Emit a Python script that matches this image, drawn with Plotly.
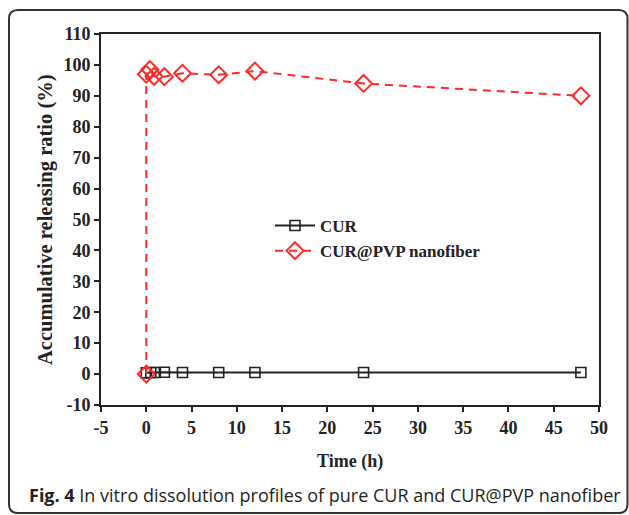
import plotly.graph_objects as go

# ---- data ----
cur_time = [0, 0.5, 1, 2, 4, 8, 12, 24, 48]
cur_release = [0.4, 0.5, 0.5, 0.6, 0.5, 0.5, 0.5, 0.5, 0.5]

pvp_time = [0, 0, 0.4, 0.85, 2, 4, 8, 12, 24, 48]
pvp_release = [0, 97.0, 98.5, 96.3, 96.2, 97.3, 96.8, 98.0, 94.0, 90.0]

x_ticks = [-5, 0, 5, 10, 15, 20, 25, 30, 35, 40, 45, 50]
x_tick_text = ["-5", "0", "5", "10", "15", "20", "25", "30", "35", "40", "45", "50"]
y_ticks = [-10, 0, 10, 20, 30, 40, 50, 60, 70, 80, 90, 100, 110]
y_tick_text = ["-10", "0", "10", "20", "30", "40", "50", "60", "70", "80", "90", "100", "110"]

series_names = ["CUR", "CUR@PVP nanofiber"]
x_title = "Time (h)"
y_title = "Accumulative releasing ratio (%)"
caption_bold = "Fig. 4"
caption_rest = " In vitro dissolution profiles of pure CUR and CUR@PVP nanofiber"

W, H = 629, 515
L, R, T, B = 101, 30, 34, 110
PW, PH = W - L - R, H - T - B

def px(x):
    return (x - L) / PW

def py(y):
    return (H - B - y) / PH

serif = "Liberation Serif, Times New Roman, serif"
fig = go.Figure()

fig.add_trace(go.Scatter(
    x=cur_time, y=cur_release, name=series_names[0], mode="lines+markers",
    line=dict(color="#222222", width=2),
    marker=dict(symbol="square-open", size=10, color="#222222", line=dict(width=1.6)),
))
fig.add_trace(go.Scatter(
    x=pvp_time, y=pvp_release, name=series_names[1], mode="lines+markers",
    line=dict(color="#ff2a2a", width=2, dash="8px,6px"),
    marker=dict(symbol="diamond-open", size=13, color="#ff2a2a", line=dict(width=2)),
))

axis_common = dict(
    showline=True, linecolor="#222222", linewidth=2, mirror=True,
    ticks="outside", ticklen=5, tickwidth=2, tickcolor="#222222",
    showgrid=False, zeroline=False,
    tickfont=dict(family=serif, size=18, color="#222222"),
)

fig.update_xaxes(range=[-5, 50], tickmode="array", tickvals=x_ticks, ticktext=[f"<b>{t}</b>" for t in x_tick_text], **axis_common)
fig.update_yaxes(range=[-10, 110], tickmode="array", tickvals=y_ticks, ticktext=[f"<b>{t}</b>" for t in y_tick_text], **axis_common)

# outer rounded border
x0, x1 = px(9), px(627.5)
y0, y1 = py(513), py(10)
rx, ry = 9 / PW, 9 / PH
path = (f"M {x0+rx},{y1} L {x1-rx},{y1} Q {x1},{y1} {x1},{y1-ry} "
        f"L {x1},{y0+ry} Q {x1},{y0} {x1-rx},{y0} L {x0+rx},{y0} "
        f"Q {x0},{y0} {x0},{y0+ry} L {x0},{y1-ry} Q {x0},{y1} {x0+rx},{y1} Z")
fig.add_shape(type="path", path=path, xref="paper", yref="paper",
              line=dict(color="#333333", width=2), fillcolor="rgba(0,0,0,0)", layer="below")

fig.add_annotation(x=px(350), y=py(461), xref="paper", yref="paper", showarrow=False,
                   xanchor="center", yanchor="middle",
                   text=f"<b>{x_title}</b>", font=dict(family=serif, size=18, color="#222222"))
fig.add_annotation(x=px(45), y=py(220), xref="paper", yref="paper", showarrow=False,
                   xanchor="center", yanchor="middle",
                   text=f"<b>{y_title}</b>", textangle=-90,
                   font=dict(family=serif, size=20.5, color="#222222"))
fig.add_annotation(x=px(27), y=py(495), xref="paper", yref="paper", showarrow=False,
                   xanchor="left", yanchor="middle", text=f"<b>{caption_bold}</b>{caption_rest}",
                   font=dict(family="Open Sans, sans-serif", size=18, color="#231f20"))

fig.update_layout(
    width=W, height=H,
    margin=dict(l=L, r=R, t=T, b=B),
    paper_bgcolor="white", plot_bgcolor="white",
    showlegend=True,
    legend=dict(x=px(270), y=py(208), xanchor="left", yanchor="top",
                bgcolor="rgba(0,0,0,0)", font=dict(family=serif, size=17, color="#222222"),
                itemwidth=40, tracegroupgap=0),
)
for tr in fig.data:
    tr.name = f"<b>{tr.name}</b>"

fig.write_html("out.html")
